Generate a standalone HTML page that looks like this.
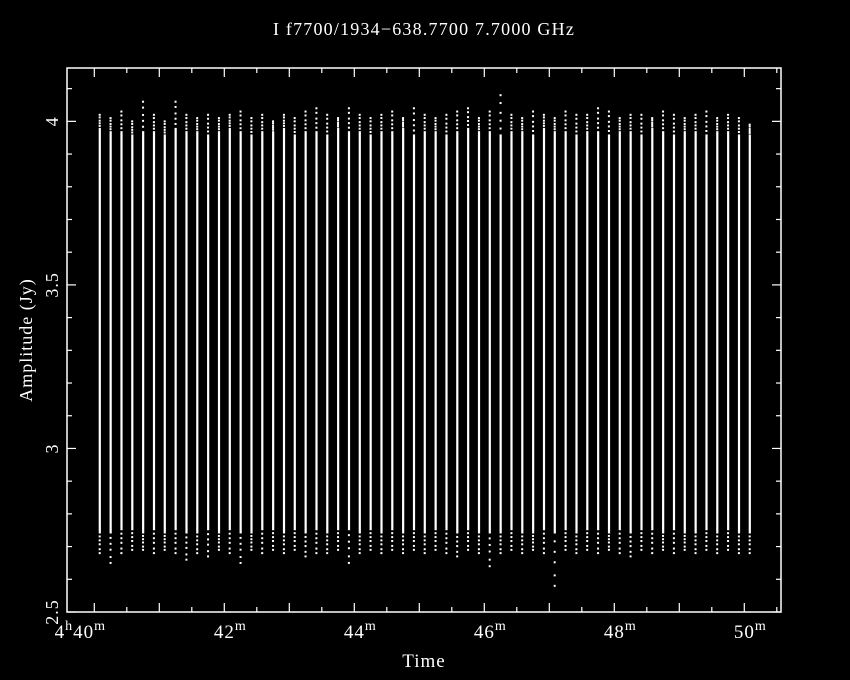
<!DOCTYPE html>
<html><head><meta charset="utf-8"><style>
html,body{margin:0;padding:0;background:#000;}
svg{display:block;}
text{font-family:"Liberation Serif",serif;fill:#fff;}
</style></head><body>
<svg id="chart" width="850" height="680" xmlns="http://www.w3.org/2000/svg">
<rect width="850" height="680" fill="#000"/>
<text x="424" y="35" font-size="18" letter-spacing="1.2" text-anchor="middle">I f7700/1934−638.7700 7.7000 GHz</text>
<text x="424" y="667" font-size="19" letter-spacing="1" text-anchor="middle">Time</text>
<text transform="translate(32,340) rotate(-90)" font-size="18" letter-spacing="1" text-anchor="middle">Amplitude (Jy)</text>
<g id="axes"></g>
<g id="marks"></g>
</svg>
<script>
const scanTimes = [40.083,40.25,40.417,40.583,40.75,40.917,41.083,41.25,41.417,41.583,41.75,41.917,42.083,42.25,42.417,42.583,42.75,42.917,43.083,43.25,43.417,43.583,43.75,43.917,44.083,44.25,44.417,44.583,44.75,44.917,45.083,45.25,45.417,45.583,45.75,45.917,46.083,46.25,46.417,46.583,46.75,46.917,47.083,47.25,47.417,47.583,47.75,47.917,48.083,48.25,48.417,48.583,48.75,48.917,49.083,49.25,49.417,49.583,49.75,49.917,50.083];
const scanHigh = [3.98,3.97,3.97,3.96,3.97,3.97,3.96,3.98,3.97,3.97,3.96,3.97,3.98,3.97,3.96,3.97,3.97,3.98,3.96,3.97,3.97,3.96,3.98,3.97,3.97,3.96,3.97,3.97,3.98,3.96,3.97,3.97,3.96,3.97,3.98,3.97,3.97,3.96,3.97,3.97,3.96,3.98,3.97,3.97,3.96,3.97,3.97,3.96,3.97,3.97,3.96,3.98,3.97,3.96,3.97,3.97,3.96,3.97,3.97,3.96,3.96];
const scanTop = [4.02,4.01,4.03,4.00,4.06,4.02,4.00,4.06,4.02,4.01,4.02,4.01,4.02,4.03,4.01,4.02,4.00,4.02,4.01,4.03,4.04,4.02,4.01,4.04,4.02,4.01,4.02,4.03,4.01,4.04,4.02,4.01,4.02,4.03,4.04,4.01,4.03,4.08,4.02,4.01,4.03,4.02,4.01,4.03,4.02,4.02,4.04,4.03,4.01,4.02,4.02,4.01,4.03,4.02,4.01,4.02,4.03,4.01,4.02,4.01,3.99];
const scanLow = [2.74,2.74,2.75,2.75,2.74,2.75,2.74,2.75,2.74,2.74,2.75,2.74,2.75,2.74,2.74,2.75,2.75,2.74,2.75,2.74,2.75,2.74,2.75,2.75,2.74,2.75,2.74,2.75,2.74,2.75,2.74,2.75,2.75,2.74,2.75,2.74,2.74,2.74,2.75,2.74,2.74,2.75,2.74,2.75,2.74,2.75,2.75,2.74,2.75,2.74,2.75,2.75,2.74,2.75,2.74,2.74,2.75,2.74,2.75,2.74,2.74];
const scanBottom = [2.68,2.65,2.68,2.69,2.69,2.68,2.69,2.68,2.66,2.68,2.67,2.69,2.68,2.65,2.69,2.68,2.69,2.68,2.69,2.67,2.68,2.68,2.69,2.65,2.68,2.69,2.68,2.69,2.68,2.69,2.68,2.69,2.68,2.67,2.69,2.68,2.64,2.68,2.69,2.68,2.69,2.68,2.58,2.69,2.68,2.69,2.68,2.69,2.68,2.67,2.69,2.68,2.69,2.68,2.69,2.68,2.69,2.68,2.69,2.68,2.68];
const yTickLabels = ["2.5","3","3.5","4"];
const yTickValues = [2.5,3,3.5,4];
const xTickValues = [40,42,44,46,48,50];
const xTickLabels = ["40","42","44","46","48","50"];

const L=67,R=781,T=68,B=612;
const xs = m => 94.3 + (m-40)*65;
const ys = v => 612 - (v-2.5)*327.1;
const NS="http://www.w3.org/2000/svg";
const axes=document.getElementById('axes'), marks=document.getElementById('marks');
function mk(tag,attrs,parent){const e=document.createElementNS(NS,tag);for(const k in attrs)e.setAttribute(k,attrs[k]);parent.appendChild(e);return e;}

const frame=mk('rect',{x:L,y:T,width:R-L,height:B-T,fill:'none',stroke:'#fff','stroke-width':1.5},axes);



for(let i=0;i<=16;i++){
  const v=2.5+i*0.1; const y=ys(v); const major=(i%5===0);
  const len=major?9:5;
  const t1=mk('line',{x1:L,x2:L+len,y1:y,y2:y,stroke:'#fff','stroke-width':1.2},axes);
  
  
  const t2=mk('line',{x1:R,x2:R-len,y1:y,y2:y,stroke:'#fff','stroke-width':1.2},axes);
  
  
}
yTickValues.forEach((v,i)=>{
  const y=ys(v);
  const t=mk('text',{transform:`translate(58,${y}) rotate(-90)`,'font-size':18,'letter-spacing':1,'text-anchor':'middle'},axes);
  t.textContent=yTickLabels[i];
  
  
});
for(let i=0;i<=21;i++){
  const m=40+i*0.5; const x=xs(m); if(x>R)break; const major=(i%2===0);
  const len=major?9:5;
  const t1=mk('line',{x1:x,x2:x,y1:B,y2:B-len,stroke:'#fff','stroke-width':1.2},axes);
  
  
  const t2=mk('line',{x1:x,x2:x,y1:T,y2:T+len,stroke:'#fff','stroke-width':1.2},axes);
  
  
}
xTickValues.forEach((m,i)=>{
  const x=xs(m);
  const t=mk('text',{x:x,y:638,'font-size':19,'letter-spacing':1,'text-anchor':'middle'},axes);
  
  
  if(i===0){
    t.setAttribute('x',x-14);
    t.innerHTML='4<tspan dy="-8" font-size="14">h</tspan><tspan dy="8">'+xTickLabels[i]+'</tspan><tspan dy="-8" font-size="14">m</tspan>';
  } else {
    t.setAttribute('x',x+6);
    t.innerHTML=xTickLabels[i]+'<tspan dy="-8" font-size="14">m</tspan>';
  }
});

const fr=[0.15,0.35,0.55,0.8,1.0];
scanTimes.forEach((m,i)=>{
  const x=xs(m);
  const bar=mk('rect',{x:x-1,y:ys(scanHigh[i]),width:2.2,height:ys(scanLow[i])-ys(scanHigh[i]),fill:'#fff'},marks);
  
  
  fr.forEach(f=>{
    const vt=scanHigh[i]+(scanTop[i]-scanHigh[i])*f;
    const d=mk('rect',{x:x-1,y:ys(vt)-1,width:2,height:2,fill:'#fff'},marks);
    
    
    const vb=scanLow[i]-(scanLow[i]-scanBottom[i])*f;
    const e=mk('rect',{x:x-1,y:ys(vb)-1,width:2,height:2,fill:'#fff'},marks);
    
    
  });
});
</script>
</body></html>
